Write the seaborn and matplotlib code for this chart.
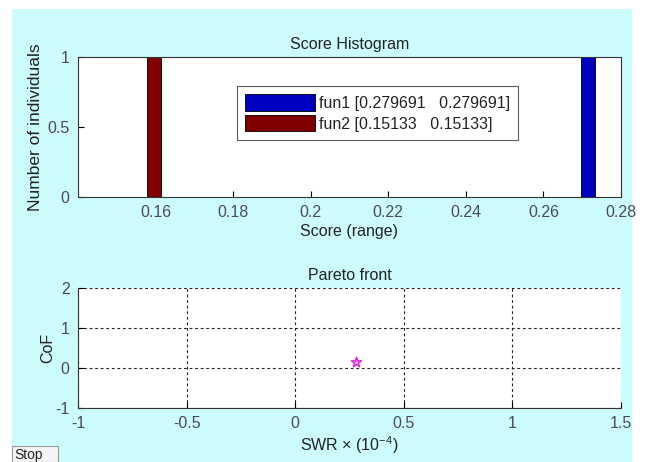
import matplotlib
matplotlib.use("Agg")
import matplotlib.pyplot as plt
import seaborn as sns
from matplotlib.patches import Rectangle

# ---- data ----
series_names = ["fun1", "fun2"]
series_ranges = [(0.279691, 0.279691), (0.15133, 0.15133)]
bar_centers = [0.2715, 0.1596]
bar_counts = [1, 1]
bar_width = 0.0036
bar_colors = ["#0000C0", "#800000"]
hist_xticks = [0.16, 0.18, 0.20, 0.22, 0.24, 0.26, 0.28]
hist_xticklabels = ["0.16", "0.18", "0.2", "0.22", "0.24", "0.26", "0.28"]
hist_yticks = [0, 0.5, 1]
hist_yticklabels = ["0", "0.5", "1"]
pareto_swr = [0.279691]
pareto_cof = [0.15133]
pareto_xticks = [-1, -0.5, 0, 0.5, 1, 1.5]
pareto_xticklabels = ["-1", "-0.5", "0", "0.5", "1", "1.5"]
pareto_yticks = [-1, 0, 1, 2]
pareto_yticklabels = ["-1", "0", "1", "2"]

sns.set_theme(style="white")
plt.rcParams["font.family"] = ["Liberation Sans", "DejaVu Sans"]
plt.rcParams["mathtext.fontset"] = "custom"
plt.rcParams["mathtext.rm"] = "Liberation Sans"

W, H = 645, 462
fig = plt.figure(figsize=(W / 100, H / 100), dpi=100, facecolor="white")

# cyan panel background
fig.patches.append(Rectangle((12 / W, 0), 620 / W, 1 - 9 / H, transform=fig.transFigure,
                             facecolor="#CCFCFC", edgecolor="none", zorder=-10))

tick_col = "#4A4A5E"
fs = 11.5

def px_axes(l, t, r, b):
    return fig.add_axes([l / W, 1 - b / H, (r - l) / W, (b - t) / H])

# ---- top: histogram ----
ax1 = px_axes(78, 57, 621, 197)
ax1.set_facecolor("white")
for c, n, col, name, rng in zip(bar_centers, bar_counts, bar_colors,
                                series_names, series_ranges):
    ax1.bar(c, n, width=bar_width, color=col, edgecolor="black", linewidth=0.6,
            label=f"{name} [{rng[0]:g}   {rng[1]:g}]")
ax1.set_xlim(0.14, 0.28)
ax1.set_ylim(0, 1)
ax1.set_xticks(hist_xticks)
ax1.set_xticklabels(hist_xticklabels)
ax1.set_yticks(hist_yticks)
ax1.set_yticklabels(hist_yticklabels)
ax1.set_title("Score Histogram", fontsize=fs, color="#222222", pad=6)
ax1.set_xlabel("Score (range)", fontsize=fs, color="#222222", labelpad=3)
ax1.set_ylabel("Number of individuals", fontsize=12.5, color="#222222", labelpad=3)
ax1.tick_params(axis="both", direction="in", length=4, width=0.8, labelsize=fs,
                colors="black", labelcolor=tick_col, pad=6)
ax1.tick_params(axis="x", top=False, bottom=True)
ax1.tick_params(axis="y", left=True, right=False)
for s in ax1.spines.values():
    s.set_color("#333333")
    s.set_linewidth(0.8)
handles, labels = ax1.get_legend_handles_labels()
leg = ax1.legend(handles, labels, loc="upper left", bbox_to_anchor=(0.293, 0.79),
                 fontsize=fs, frameon=True, fancybox=False, edgecolor="#333333",
                 handlelength=4.4, handleheight=1.2, handletextpad=0.2,
                 borderpad=0.5, labelspacing=0.25, borderaxespad=0)
leg.get_frame().set_linewidth(0.8)
for t in leg.get_texts():
    t.set_color("#222222")

# ---- bottom: Pareto front ----
ax2 = px_axes(78, 288, 621, 408)
ax2.set_facecolor("white")
sns.scatterplot(x=pareto_swr, y=pareto_cof, ax=ax2, marker="*", s=60,
                facecolor="#F0A0F0", edgecolor="#E020E0", linewidth=1.0, zorder=5)
ax2.set_xlim(-1, 1.5)
ax2.set_ylim(-1, 2)
ax2.set_xticks(pareto_xticks)
ax2.set_xticklabels(pareto_xticklabels)
ax2.set_yticks(pareto_yticks)
ax2.set_yticklabels(pareto_yticklabels)
ax2.grid(True, color="#222222", linestyle=(0, (2.5, 2.5)), linewidth=0.8)
ax2.set_axisbelow(True)
for k in ["top", "right"]:
    ax2.spines[k].set_visible(False)
for k in ["left", "bottom"]:
    ax2.spines[k].set_color("#333333")
    ax2.spines[k].set_linewidth(0.8)
ax2.set_title("Pareto front", fontsize=fs, color="#222222", pad=6)
ax2.set_xlabel("SWR \u00d7 (10$^{-4}$)", fontsize=fs, color="#222222", labelpad=2)
ax2.set_ylabel("CoF", fontsize=fs, color="#222222", labelpad=0)
ax2.tick_params(axis="both", direction="in", length=4, width=0.8, labelsize=fs,
                colors="black", labelcolor=tick_col, pad=6)
ax2.tick_params(axis="x", bottom=True, top=False)
ax2.tick_params(axis="y", left=True, right=False)

# ---- Stop button ----
fig.patches.append(Rectangle((12 / W, 0), 46 / W, 16 / H, transform=fig.transFigure,
                             facecolor="#F4F4F4", edgecolor="#9A9A9A", linewidth=0.8, zorder=3))
fig.text(14 / W, 7 / H, "Stop", fontsize=10, color="#222222", va="center", ha="left", zorder=4)

fig.savefig("out.png", dpi=100, facecolor="white")
